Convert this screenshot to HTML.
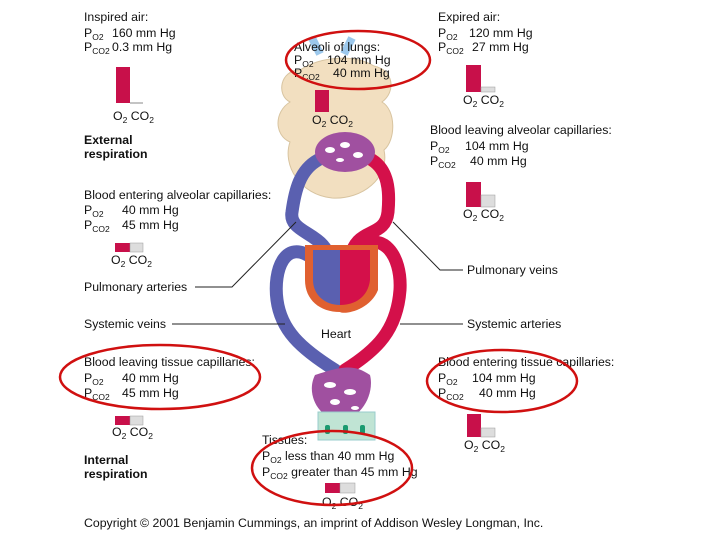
<!DOCTYPE html>
<html><head><meta charset="utf-8"><style>
html,body{margin:0;padding:0;background:#fff;}
svg{display:block;font-family:"Liberation Sans",sans-serif;}
text{font-size:12.3px;fill:#111;}
.b{font-weight:bold;}
.s{font-size:8.5px;}
</style></head><body>
<svg width="720" height="540" viewBox="0 0 720 540">
<!-- lung -->
<path d="M300,70 C280,70 276,95 290,102 C274,112 274,135 290,142 C282,165 300,195 332,198 C362,200 390,178 384,150 C396,140 396,110 382,102 C396,92 394,70 374,66 C354,54 322,56 300,70Z" fill="#f2dfc0" stroke="#d8c4a0"/>
<path d="M312,38 l8,16 M352,38 l-8,16" stroke="#9cc8ec" stroke-width="8"/>
<!-- vessels -->
<g fill="none" stroke-linecap="round">
<path d="M318,160 C300,170 295,190 292,212 C288,235 330,232 330,265 L330,300" stroke="#5a60b0" stroke-width="13"/>
<path d="M312,258 C285,238 273,270 277,300 C281,330 300,348 335,370" stroke="#5a60b0" stroke-width="13"/>
<path d="M372,160 C388,170 390,190 388,212 C385,240 355,225 350,260 L350,300" stroke="#d4104a" stroke-width="13"/>
<path d="M355,250 C382,228 402,255 400,290 C397,330 377,350 345,370" stroke="#d4104a" stroke-width="13"/>
</g>
<!-- heart -->
<path d="M305,245 L378,245 L378,290 C370,310 345,315 340,312 C320,312 305,300 305,280Z" fill="#e06030"/>
<path d="M313,250 L340,250 L340,305 C325,305 313,295 313,280Z" fill="#5a60b0"/>
<path d="M340,250 L370,250 L370,280 C368,297 355,305 340,305Z" fill="#d4104a"/>
<!-- capillaries -->
<ellipse cx="345" cy="152" rx="30" ry="20" fill="#a050a0"/>
<g fill="#fff"><ellipse cx="330" cy="150" rx="5" ry="3"/><ellipse cx="345" cy="145" rx="5" ry="3"/><ellipse cx="358" cy="155" rx="5" ry="3"/><ellipse cx="340" cy="160" rx="4" ry="2"/></g>
<path d="M315,375 C345,365 355,365 370,375 C375,395 360,420 340,420 C320,420 305,395 315,375Z" fill="#a050a0"/>
<g fill="#fff"><ellipse cx="330" cy="385" rx="6" ry="3"/><ellipse cx="350" cy="392" rx="6" ry="3"/><ellipse cx="335" cy="402" rx="5" ry="3"/><ellipse cx="355" cy="408" rx="4" ry="2"/></g>
<rect x="318" y="412" width="57" height="28" fill="#c0e4d4" stroke="#9cc"/>
<g fill="#1a9a70"><rect x="325" y="425" width="5" height="9" rx="2"/><rect x="343" y="425" width="5" height="9" rx="2"/><rect x="360" y="425" width="5" height="9" rx="2"/></g>
<!-- leader lines -->
<g stroke="#222" fill="none" stroke-width="1">
<path d="M195,287 L232,287 L296,222"/>
<path d="M172,324 L285,324"/>
<path d="M463,270 L440,270 L393,222"/>
<path d="M400,324 L463,324"/>
</g>
<!-- bars -->
<g>
<rect x="116" y="67" width="14" height="36" fill="#c8104a"/><line x1="130" y1="103" x2="143" y2="103" stroke="#888"/>
<rect x="115" y="243" width="15" height="9" fill="#c8104a"/><rect x="130" y="243" width="13" height="9" fill="#ddd" stroke="#999" stroke-width=".5"/>
<rect x="115" y="416" width="15" height="9" fill="#c8104a"/><rect x="130" y="416" width="13" height="9" fill="#ddd" stroke="#999" stroke-width=".5"/>
<rect x="315" y="90" width="14" height="22" fill="#c8104a"/>
<rect x="466" y="65" width="15" height="27" fill="#c8104a"/><rect x="481" y="87" width="14" height="5" fill="#ddd" stroke="#999" stroke-width=".5"/>
<rect x="466" y="182" width="15" height="25" fill="#c8104a"/><rect x="481" y="195" width="14" height="12" fill="#ddd" stroke="#999" stroke-width=".5"/>
<rect x="467" y="414" width="14" height="23" fill="#c8104a"/><rect x="481" y="428" width="14" height="9" fill="#ddd" stroke="#999" stroke-width=".5"/>
<rect x="325" y="483" width="15" height="10" fill="#c8104a"/><rect x="340" y="483" width="15" height="10" fill="#ddd" stroke="#999" stroke-width=".5"/>
</g>
<!-- text left -->
<text x="84" y="21">Inspired air:</text>
<text x="84" y="37">P<tspan class="s" dy="3">O2</tspan><tspan dy="-3" x="112">160 mm Hg</tspan></text>
<text x="84" y="51">P<tspan class="s" dy="3">CO2</tspan><tspan dy="-3" x="112">0.3 mm Hg</tspan></text>
<text x="113" y="120">O<tspan class="s" dy="3">2</tspan><tspan dy="-3"> CO</tspan><tspan class="s" dy="3">2</tspan></text>
<text x="84" y="144" class="b">External</text>
<text x="84" y="158" class="b">respiration</text>
<text x="84" y="199">Blood entering alveolar capillaries:</text>
<text x="84" y="214">P<tspan class="s" dy="3">O2</tspan><tspan dy="-3" x="122">40 mm Hg</tspan></text>
<text x="84" y="229">P<tspan class="s" dy="3">CO2</tspan><tspan dy="-3" x="122">45 mm Hg</tspan></text>
<text x="111" y="264">O<tspan class="s" dy="3">2</tspan><tspan dy="-3"> CO</tspan><tspan class="s" dy="3">2</tspan></text>
<text x="84" y="291">Pulmonary arteries</text>
<text x="84" y="328">Systemic veins</text>
<text x="84" y="366">Blood leaving tissue capillaries:</text>
<text x="84" y="382">P<tspan class="s" dy="3">O2</tspan><tspan dy="-3" x="122">40 mm Hg</tspan></text>
<text x="84" y="397">P<tspan class="s" dy="3">CO2</tspan><tspan dy="-3" x="122">45 mm Hg</tspan></text>
<text x="112" y="436">O<tspan class="s" dy="3">2</tspan><tspan dy="-3"> CO</tspan><tspan class="s" dy="3">2</tspan></text>
<text x="84" y="464" class="b">Internal</text>
<text x="84" y="478" class="b">respiration</text>
<!-- center -->
<text x="294" y="51">Alveoli of lungs:</text>
<text x="294" y="64">P<tspan class="s" dy="3">O2</tspan><tspan dy="-3" x="327">104 mm Hg</tspan></text>
<text x="294" y="77">P<tspan class="s" dy="3">CO2</tspan><tspan dy="-3" x="333">40 mm Hg</tspan></text>
<text x="312" y="124">O<tspan class="s" dy="3">2</tspan><tspan dy="-3"> CO</tspan><tspan class="s" dy="3">2</tspan></text>
<text x="321" y="338">Heart</text>
<text x="262" y="444">Tissues:</text>
<text x="262" y="460">P<tspan class="s" dy="3">O2</tspan><tspan dy="-3"> less than 40 mm Hg</tspan></text>
<text x="262" y="476">P<tspan class="s" dy="3">CO2</tspan><tspan dy="-3"> greater than 45 mm Hg</tspan></text>
<text x="322" y="506">O<tspan class="s" dy="3">2</tspan><tspan dy="-3"> CO</tspan><tspan class="s" dy="3">2</tspan></text>
<!-- right -->
<text x="438" y="21">Expired air:</text>
<text x="438" y="37">P<tspan class="s" dy="3">O2</tspan><tspan dy="-3" x="469">120 mm Hg</tspan></text>
<text x="438" y="51">P<tspan class="s" dy="3">CO2</tspan><tspan dy="-3" x="472">27 mm Hg</tspan></text>
<text x="463" y="104">O<tspan class="s" dy="3">2</tspan><tspan dy="-3"> CO</tspan><tspan class="s" dy="3">2</tspan></text>
<text x="430" y="134">Blood leaving alveolar capillaries:</text>
<text x="430" y="150">P<tspan class="s" dy="3">O2</tspan><tspan dy="-3" x="465">104 mm Hg</tspan></text>
<text x="430" y="165">P<tspan class="s" dy="3">CO2</tspan><tspan dy="-3" x="470">40 mm Hg</tspan></text>
<text x="463" y="218">O<tspan class="s" dy="3">2</tspan><tspan dy="-3"> CO</tspan><tspan class="s" dy="3">2</tspan></text>
<text x="467" y="274">Pulmonary veins</text>
<text x="467" y="328">Systemic arteries</text>
<text x="438" y="366">Blood entering tissue capillaries:</text>
<text x="438" y="382">P<tspan class="s" dy="3">O2</tspan><tspan dy="-3" x="472">104 mm Hg</tspan></text>
<text x="438" y="397">P<tspan class="s" dy="3">CO2</tspan><tspan dy="-3" x="479">40 mm Hg</tspan></text>
<text x="464" y="449">O<tspan class="s" dy="3">2</tspan><tspan dy="-3"> CO</tspan><tspan class="s" dy="3">2</tspan></text>
<text x="84" y="527">Copyright © 2001 Benjamin Cummings, an imprint of Addison Wesley Longman, Inc.</text>
<!-- red ellipses -->
<g fill="none" stroke="#d01010" stroke-width="2.5">
<ellipse cx="358" cy="60" rx="72" ry="29"/>
<ellipse cx="160" cy="377" rx="100" ry="32"/>
<ellipse cx="502" cy="381" rx="75" ry="31"/>
<ellipse cx="332" cy="468" rx="80" ry="37"/>
</g>
</svg>
</body></html>
